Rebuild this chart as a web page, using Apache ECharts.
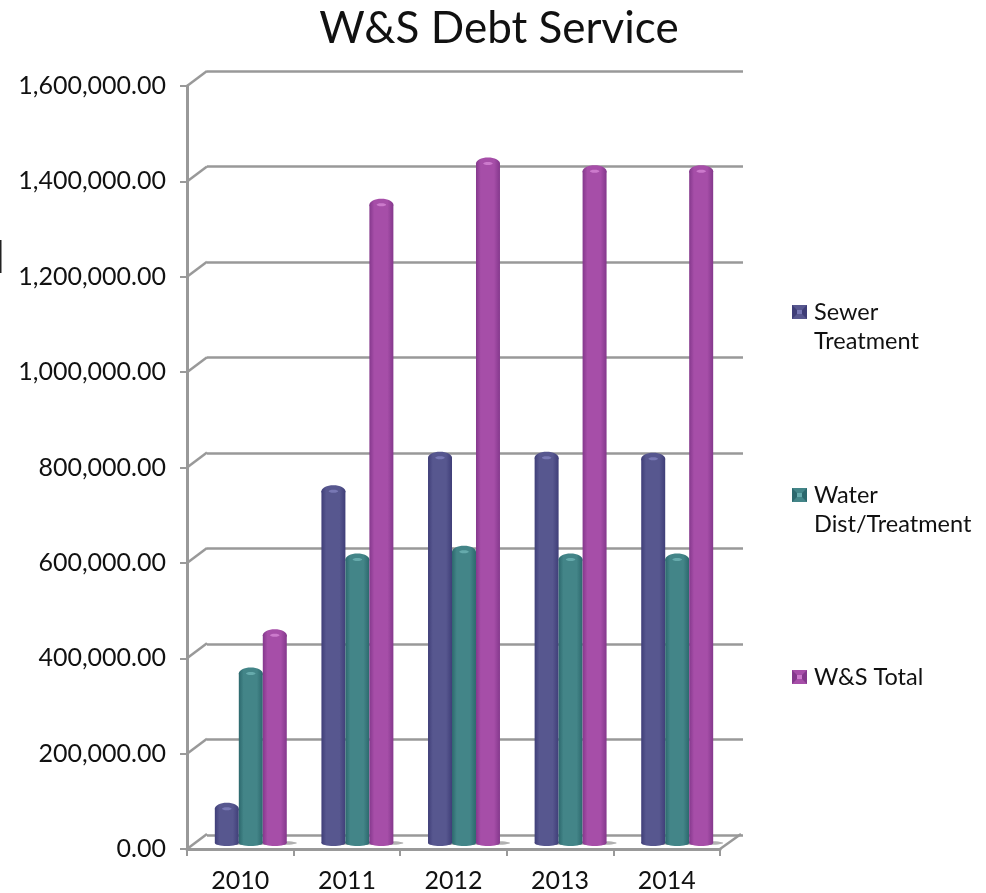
<!DOCTYPE html>
<html>
<head>
<meta charset="utf-8">
<title>W&amp;S Debt Service</title>
<script src="https://cdn.jsdelivr.net/npm/echarts@6/dist/echarts.min.js"></script>
<style>
    html, body { margin: 0; padding: 0; background: #fff; }
    #chart { width: 986px; height: 893px; }
</style>
</head>
<body>
<div id="chart"></div>
<script>
const years = ['2010', '2011', '2012', '2013', '2014']
const sewerTreatment = [75000, 740000, 810000, 810000, 808000]
const waterTreatment = [358000, 597000, 613000, 597000, 597000]
const wsTotal = [438000, 1340000, 1426000, 1410000, 1410000]
const yTicks = [0, 200000, 400000, 600000, 800000, 1000000, 1200000, 1400000, 1600000]

const FONT = 'Lato'
const GRAY = '#999999'
const TEXT = '#111'

// 柱子颜色: 边缘 / 中间 / 高光
const SEWER_COLORS = ['#3f3e78', '#57578f', '#7878b4']
const WATER_COLORS = ['#2c686d', '#438588', '#66aaac']
const TOTAL_COLORS = ['#84388c', '#a64ea8', '#cc7acc']

function cylinderGradient(c) {
    return new echarts.graphic.LinearGradient(0, 0, 1, 0, [
        { offset: 0, color: c[0] },
        { offset: 0.2, color: c[1] },
        { offset: 0.75, color: c[1] },
        { offset: 1, color: c[0] },
    ])
}

function cylinder(colors, slot) {
    return function (params, api) {
        const band = api.size([1, 0])[0]
        const w = band * 0.225
        const top = api.coord([api.value(0), api.value(1)])
        const base = api.coord([api.value(0), 0])
        const x = top[0] + slot * w - w / 2
        const ry = 6
        const capY = top[1] + 1.5
        return {
            type: 'group',
            children: [
                // 地面阴影
                {
                    type: 'ellipse',
                    shape: { cx: x + w / 2 + 5, cy: base[1], rx: w / 2 + 5, ry: 2 },
                    style: { fill: 'rgba(60,60,60,0.4)' },
                },
                {
                    type: 'ellipse',
                    shape: { cx: x + w / 2, cy: base[1], rx: w / 2, ry: 3 },
                    style: { fill: cylinderGradient(colors) },
                },
                {
                    type: 'rect',
                    shape: { x: x, y: capY, width: w, height: base[1] - capY },
                    style: { fill: cylinderGradient(colors) },
                },
                {
                    type: 'ellipse',
                    shape: { cx: x + w / 2, cy: capY, rx: w / 2, ry: ry },
                    style: { fill: cylinderGradient(colors) },
                },
                {
                    type: 'ellipse',
                    shape: { cx: x + w / 2, cy: capY, rx: w / 5, ry: 1.5 },
                    style: { fill: colors[2] },
                },
            ],
        }
    }
}

function barSeries(name, values, colors, slot) {
    return {
        name: name,
        type: 'custom',
        xAxisIndex: 2,
        yAxisIndex: 2,
        z: 5,
        clip: false,
        renderItem: cylinder(colors, slot),
        encode: { x: 0, y: 1 },
        data: values.map((v, i) => [years[i], v]),
    }
}

function legendItem(x, y, text, colors) {
    return {
        type: 'group',
        left: x,
        top: y,
        children: [
            { type: 'rect', shape: { x: 0, y: 7, width: 15, height: 14 }, style: { fill: colors[1] } },
            { type: 'polygon', shape: { points: [[0, 7], [5, 12], [5, 16], [0, 21]] }, style: { fill: colors[0] } },
            { type: 'polygon', shape: { points: [[15, 7], [10, 12], [10, 16], [15, 21]] }, style: { fill: colors[0] } },
            { type: 'rect', shape: { x: 5, y: 12, width: 5, height: 4 }, style: { fill: colors[2] } },
            { type: 'text', x: 22, y: 0, style: { text: text, font: '23.5px ' + FONT, fill: TEXT, lineHeight: 29 } },
        ],
    }
}

const chart = echarts.init(document.getElementById('chart'))
chart.setOption({
    animation: false,
    backgroundColor: '#fff',
    title: {
        text: 'W&S Debt Service',
        left: 494,
        top: 2,
        textAlign: 'center',
        textStyle: { fontFamily: FONT, fontSize: 44, fontWeight: 'normal', color: TEXT },
    },
    grid: [
        { left: 187, top: 86, width: 533, height: 764 },
        { left: 207, top: 71, width: 536, height: 764 },
        { left: 197.5, top: 79, width: 533, height: 764 },
    ],
    xAxis: [
        {
            type: 'category',
            gridIndex: 0,
            data: years,
            axisLine: { lineStyle: { color: GRAY, width: 3 } },
            axisTick: { show: true, length: 7, alignWithLabel: false, lineStyle: { color: GRAY, width: 2 } },
            axisLabel: { margin: 19, fontFamily: FONT, fontSize: 25, color: TEXT },
        },
        { type: 'category', gridIndex: 1, data: years, show: false },
        { type: 'category', gridIndex: 2, data: years, show: false },
    ],
    yAxis: [
        {
            type: 'value',
            gridIndex: 0,
            min: 0,
            max: 1600000,
            interval: 200000,
            axisLine: { show: true, lineStyle: { color: GRAY, width: 3 } },
            axisTick: { show: true, length: 7, lineStyle: { color: GRAY, width: 2 } },
            splitLine: { show: false },
            axisLabel: {
                margin: 21,
                fontFamily: FONT,
                fontSize: 25,
                color: TEXT,
                formatter: v => v.toLocaleString('en-US', { minimumFractionDigits: 2, maximumFractionDigits: 2 }),
            },
        },
        {
            type: 'value',
            gridIndex: 1,
            min: 0,
            max: 1600000,
            interval: 200000,
            axisLine: { show: false },
            axisTick: { show: false },
            axisLabel: { show: false },
            splitLine: { show: true, lineStyle: { color: GRAY, width: 2.5 } },
        },
        {
            type: 'value',
            gridIndex: 2,
            min: 0,
            max: 1600000,
            interval: 200000,
            axisLine: { show: false },
            axisTick: { show: false },
            axisLabel: { show: false },
            splitLine: { show: false },
        },
    ],
    series: [
        // 前后墙之间的斜线
        {
            type: 'custom',
            xAxisIndex: 0,
            yAxisIndex: 0,
            z: 2,
            clip: false,
            silent: true,
            renderItem(params, api) {
                const p = api.coord([0, api.value(0)])
                const x0 = params.coordSys.x
                const style = { stroke: GRAY, lineWidth: 2.5 }
                const children = [
                    { type: 'line', shape: { x1: x0, y1: p[1], x2: x0 + 20, y2: p[1] - 15 }, style: style },
                ]
                if (api.value(0) === 0) {
                    const x1 = x0 + params.coordSys.width
                    children.push({ type: 'line', shape: { x1: x1, y1: p[1], x2: x1 + 21, y2: p[1] - 15 }, style: style })
                }
                return { type: 'group', children: children }
            },
            encode: { y: 0 },
            data: yTicks.map(v => [v]),
        },
        barSeries('Sewer Treatment', sewerTreatment, SEWER_COLORS, -1),
        barSeries('Water Dist/Treatment', waterTreatment, WATER_COLORS, 0),
        barSeries('W&S Total', wsTotal, TOTAL_COLORS, 1),
    ],
    graphic: [
        legendItem(792, 298, 'Sewer\nTreatment', SEWER_COLORS),
        legendItem(792, 481, 'Water\nDist/Treatment', WATER_COLORS),
        legendItem(792, 663, 'W&S Total', TOTAL_COLORS),
        // 左边缘的黑线
        { type: 'rect', left: 0, top: 240, shape: { width: 1.5, height: 33 }, style: { fill: '#222' } },
    ],
})
</script>
</body>
</html>
